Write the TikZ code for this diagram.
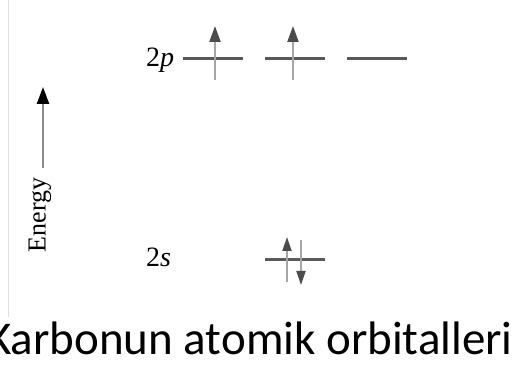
\documentclass[tikz,border=0pt]{standalone}
\usepackage{fontspec}
\setmainfont{Liberation Serif}
\newfontfamily\capfont{Carlito}
\usetikzlibrary{arrows.meta}
\begin{document}
\begin{tikzpicture}[x=1pt,y=-1pt,
  level/.style={draw=black!65, line width=3pt},
  spin/.style={draw=black!35, line width=2pt, -{Triangle[length=16pt,width=11pt,fill=black!70,color=black!70]}},
  spins/.style={draw=black!35, line width=2pt, -{Triangle[length=14pt,width=9pt,fill=black!70,color=black!70]}},
  lbl/.style={font=\fontsize{28}{28}\selectfont, inner sep=0pt}]
\useasboundingbox (0,0) rectangle (520,366);
\draw[black!12, line width=0.8pt] (8,0) -- (8,317);
% Energy axis
\coordinate (ea) at (43,168);
\coordinate (eb) at (43,87);
\draw[draw=black!45, line width=2.5pt, -{Triangle[length=17pt,width=12pt,fill=black,color=black]}] (ea) -- (eb);
\node[rotate=90, font=\fontsize{26}{26}\selectfont, inner sep=0pt] (energy) at (40,215) {Energy};
% 2p
\node[lbl, anchor=base west] (l2p) at (146,67) {2\textit{p}};
\coordinate (p1a) at (183,59); \coordinate (p1b) at (243,59);
\coordinate (p2a) at (265,59); \coordinate (p2b) at (325,59);
\coordinate (p3a) at (347,59); \coordinate (p3b) at (407,59);
\draw[level] (p1a) -- (p1b);
\draw[level] (p2a) -- (p2b);
\draw[level] (p3a) -- (p3b);
\coordinate (u1a) at (215,80); \coordinate (u1b) at (215,26);
\coordinate (u2a) at (293,80); \coordinate (u2b) at (293,26);
\draw[spin] (u1a) -- (u1b);
\draw[spin] (u2a) -- (u2b);
% 2s
\node[lbl, anchor=base west] (l2s) at (146,267) {2\textit{s}};
\coordinate (s1a) at (265,260); \coordinate (s1b) at (325,260);
\draw[level] (s1a) -- (s1b);
\coordinate (su1) at (287,282); \coordinate (su2) at (287,237);
\coordinate (sd1) at (301,240); \coordinate (sd2) at (301,285);
\draw[spins] (su1) -- (su2);
\draw[spins] (sd1) -- (sd2);
% caption
\node[font=\capfont\fontsize{47}{47}\selectfont, inner sep=0pt, anchor=base] (cap) at (250,355) {Karbonun atomik orbitalleri};
\end{tikzpicture}
\end{document}
